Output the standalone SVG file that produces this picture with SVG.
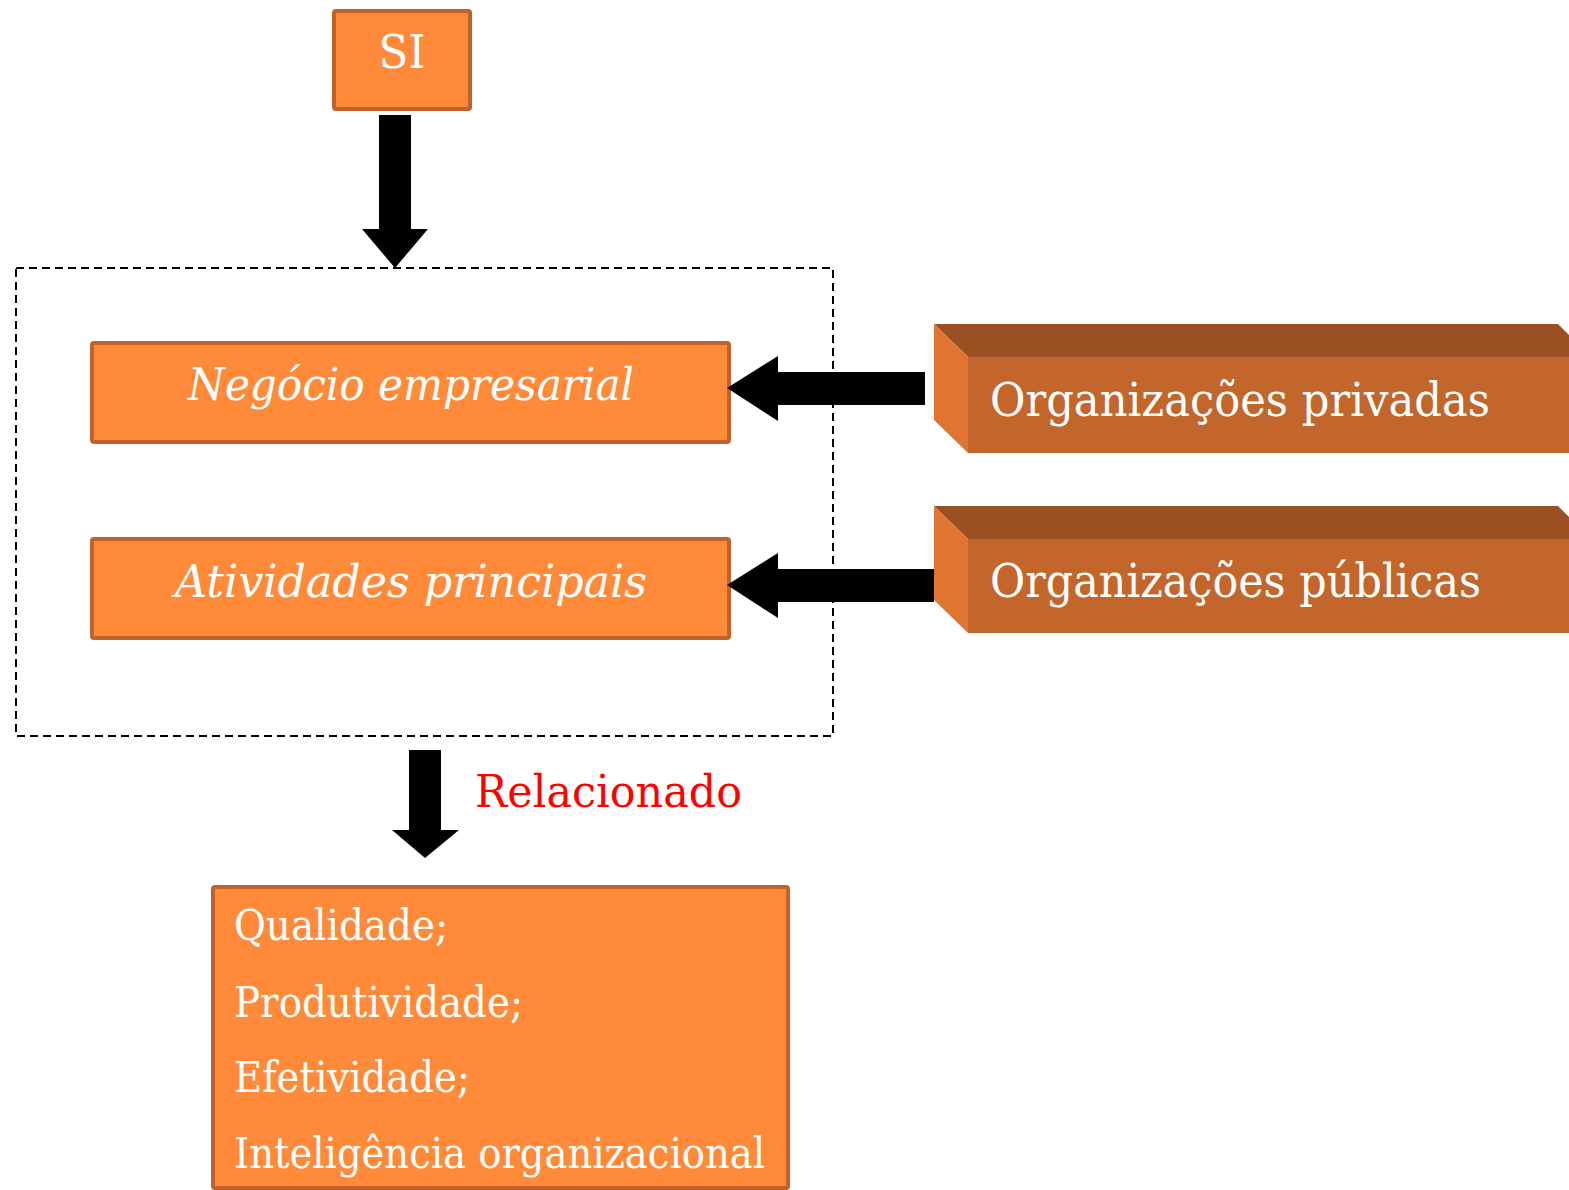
<svg xmlns="http://www.w3.org/2000/svg" width="1569" height="1190" viewBox="0 0 1569 1190">
<style>
.box{fill:#FE8A3A;stroke:#C0622A;stroke-width:4}
.t{font-family:"DejaVu Serif","Liberation Serif",serif;fill:#FFFFFF}
.it{font-style:italic}
.arrow{fill:#000000}
.top{fill:#9A5022}
.side{fill:#E07532}
.front{fill:#C3662B}
</style>
<rect width="1569" height="1190" fill="#FFFFFF"/>
<g id="container">
<rect x="16" y="268" width="817" height="468" fill="none" stroke="#000" stroke-width="2" stroke-dasharray="8,5"/>
</g>
<g id="si">
<rect class="box" x="334" y="11" width="136" height="98" rx="2"/>
<text class="t" x="402" y="68" font-size="46" text-anchor="middle" textLength="47" lengthAdjust="spacingAndGlyphs">SI</text>
</g>
<g id="negocio">
<rect class="box" x="92" y="343" width="637" height="99" rx="2"/>
<text class="t it" x="188" y="400" font-size="44" textLength="446" lengthAdjust="spacingAndGlyphs">Negócio empresarial</text>
</g>
<g id="atividades">
<rect class="box" x="92" y="539" width="637" height="99" rx="2"/>
<text class="t it" x="175" y="597" font-size="44" textLength="472" lengthAdjust="spacingAndGlyphs">Atividades principais</text>
</g>
<g id="privadas">
<polygon class="top" points="934,324 1558,324 1591,357 968,357"/>
<polygon class="side" points="934,324 968,357 968,453 934,420"/>
<rect class="front" x="968" y="357" width="620" height="96"/>
<text class="t" x="990" y="416" font-size="46" textLength="500" lengthAdjust="spacingAndGlyphs">Organizações privadas</text>
</g>
<g id="publicas">
<polygon class="top" points="934,506 1558,506 1591,539 968,539"/>
<polygon class="side" points="934,506 968,539 968,633 934,600"/>
<rect class="front" x="968" y="539" width="620" height="94"/>
<text class="t" x="990" y="597" font-size="46" textLength="491" lengthAdjust="spacingAndGlyphs">Organizações públicas</text>
</g>
<g id="resultados">
<rect class="box" x="213" y="887" width="575" height="301" rx="2"/>
<text class="t" x="234" y="940" font-size="42" textLength="214" lengthAdjust="spacingAndGlyphs">Qualidade;</text>
<text class="t" x="234" y="1017" font-size="42" textLength="289" lengthAdjust="spacingAndGlyphs">Produtividade;</text>
<text class="t" x="234" y="1092" font-size="42" textLength="236" lengthAdjust="spacingAndGlyphs">Efetividade;</text>
<text class="t" x="234" y="1168" font-size="42" textLength="531" lengthAdjust="spacingAndGlyphs">Inteligência organizacional</text>
</g>
<g id="connectors">
<polygon class="arrow" points="379,115 411,115 411,229 428,229 395,268 362,229 379,229"/>
<polygon class="arrow" points="925,372 925,405 778,405 778,421 727,388 778,356 778,372"/>
<polygon class="arrow" points="934,569 934,602 778,602 778,618 727,585 778,553 778,569"/>
<polygon class="arrow" points="409,750 441,750 441,830 459,830 425,858 392,830 409,830"/>
<text x="475" y="807" font-family="DejaVu Serif, Liberation Serif, serif" font-size="45" fill="#FF0000" textLength="267" lengthAdjust="spacingAndGlyphs">Relacionado</text>
</g>
</svg>
